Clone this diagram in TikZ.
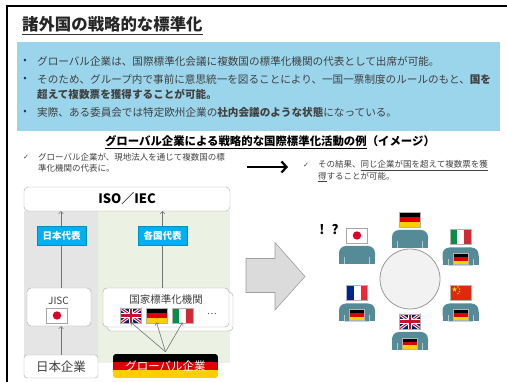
\documentclass[tikz,border=0pt]{standalone}
\usepackage{fontspec}
\setmainfont{Noto Sans CJK JP}
\newfontfamily\symfont{DejaVu Sans}
\usetikzlibrary{arrows.meta,shapes.geometric,shadows}

\definecolor{skyback}{RGB}{155,213,235}
\definecolor{repcyan}{RGB}{0,176,240}
\definecolor{personcol}{RGB}{84,139,150}
\definecolor{panelgreen}{RGB}{235,242,228}
\definecolor{bulletblue}{RGB}{31,56,100}
\definecolor{textgray}{RGB}{64,64,64}
\definecolor{dered}{RGB}{221,0,0}
\definecolor{degold}{RGB}{255,206,0}
\definecolor{jpred}{RGB}{220,0,40}
\definecolor{itgreen}{RGB}{0,146,70}
\definecolor{itred}{RGB}{206,43,55}
\definecolor{frblue}{RGB}{0,35,149}
\definecolor{frred}{RGB}{237,41,57}
\definecolor{cnred}{RGB}{222,41,16}
\definecolor{cnyellow}{RGB}{255,222,0}
\definecolor{ukblue}{RGB}{1,33,105}
\definecolor{ukred}{RGB}{200,16,46}

% flags are 21 x 15, centred on the pic origin (y runs downwards)
\tikzset{
	flag de/.pic={
		\fill[black] (-10.5,-7.5) rectangle (10.5,-2.5);
		\fill[dered] (-10.5,-2.5) rectangle (10.5,2.5);
		\fill[degold] (-10.5,2.5) rectangle (10.5,7.5);
		\draw[gray!60,line width=0.4pt] (-10.5,-7.5) rectangle (10.5,7.5);
	},
	flag jp/.pic={
		\fill[white] (-10.5,-7.5) rectangle (10.5,7.5);
		\fill[jpred] (0,0) circle (4.2pt);
		\draw[gray!70,line width=0.5pt] (-10.5,-7.5) rectangle (10.5,7.5);
	},
	flag it/.pic={
		\fill[itgreen] (-10.5,-7.5) rectangle (-3.5,7.5);
		\fill[white] (-3.5,-7.5) rectangle (3.5,7.5);
		\fill[itred] (3.5,-7.5) rectangle (10.5,7.5);
		\draw[gray!60,line width=0.4pt] (-10.5,-7.5) rectangle (10.5,7.5);
	},
	flag fr/.pic={
		\fill[frblue] (-10.5,-7.5) rectangle (-3.5,7.5);
		\fill[white] (-3.5,-7.5) rectangle (3.5,7.5);
		\fill[frred] (3.5,-7.5) rectangle (10.5,7.5);
		\draw[gray!60,line width=0.4pt] (-10.5,-7.5) rectangle (10.5,7.5);
	},
	flag cn/.pic={
		\fill[cnred] (-10.5,-7.5) rectangle (10.5,7.5);
		\node (cnstar) [star,star points=5,star point ratio=2.4,fill=cnyellow,inner sep=0pt,minimum size=5pt] at (-6,-3.5) {};
		\foreach \sx/\sy [count=\k] in {-2.5/-6,-1/-4,-1/-1.5,-2.5/0.5}
			\node (cnsmall\k) [star,star points=5,star point ratio=2.4,fill=cnyellow,inner sep=0pt,minimum size=1.8pt] at (\sx,\sy) {};
		\draw[gray!60,line width=0.4pt] (-10.5,-7.5) rectangle (10.5,7.5);
	},
	flag uk/.pic={
		\begin{scope}
			\clip (-10.5,-7.5) rectangle (10.5,7.5);
			\fill[ukblue] (-10.5,-7.5) rectangle (10.5,7.5);
			\draw[white,line width=3pt] (-10.5,-7.5) -- (10.5,7.5) (-10.5,7.5) -- (10.5,-7.5);
			\draw[ukred,line width=1pt] (-10.5,-7.5) -- (10.5,7.5) (-10.5,7.5) -- (10.5,-7.5);
			\draw[white,line width=4.5pt] (-10.5,0) -- (10.5,0) (0,-7.5) -- (0,7.5);
			\draw[ukred,line width=2.5pt] (-10.5,0) -- (10.5,0) (0,-7.5) -- (0,7.5);
		\end{scope}
		\draw[gray!60,line width=0.4pt] (-10.5,-7.5) rectangle (10.5,7.5);
	},
	person/.pic={
		\fill[personcol,rounded corners=7pt] (-18,-9) rectangle (18,9);
		\fill[personcol] (-18,0) rectangle (18,9);
		\draw[white!55!personcol,line width=0.6pt] (-12.5,2.5) -- (-12.5,9) (12.5,2.5) -- (12.5,9);
	},
}

\begin{document}
\begin{tikzpicture}[
		x={(1pt,0pt)},
		y={(0pt,-1pt)},
		titletext/.style={font=\bfseries\fontsize{16.4}{18}\selectfont},
		bodytext/.style={anchor=west,inner sep=0pt,text=textgray,font=\fontsize{10.6}{12}\selectfont},
		bulletdot/.style={inner sep=0pt,text=bulletblue,font=\fontsize{10}{10}\selectfont},
		notetext/.style={anchor=west,inner sep=0pt,align=left,text=textgray,font=\fontsize{8.5}{11.5}\selectfont},
		checkmark/.style={inner sep=0pt,text=textgray,font=\symfont\fontsize{7}{7}\selectfont},
		whitebox/.style={draw=gray!70,fill=white,rounded corners=4pt,inner sep=0pt},
		repbox/.style={fill=repcyan,draw=repcyan!80!black,line width=0.3pt,text=white,inner sep=0pt,
			minimum width=49pt,minimum height=19pt,font=\bfseries\fontsize{9.5}{10}\selectfont},
		conn/.style={draw=gray!110,line width=0.6pt,-{Straight Barb[length=2pt,width=4.5pt]}},
	]
	\useasboundingbox (0,0) rectangle (507,382);
	\draw[line width=1.2pt] (7,382) -- (7,6) -- (507,6);

	% heading and summary
	\node (title) [titletext,text=black!85,anchor=west,inner sep=0pt] at (22,24) {諸外国の戦略的な標準化};
	\draw[line width=1.3pt,black!80] (title.west |- 0,34.5) -- (title.east |- 0,34.5);

	\node (summary) [fill=skyback,anchor=north west,inner sep=0pt,minimum width=483pt,minimum height=89pt] at (17,42) {};
	\foreach \by [count=\k] in {61.7,79.3,112.7}
		\node (dot\k) [bulletdot] at (25,\by) {•};
	\node (sum1) [bodytext] at (37,61.7) {グローバル企業は、国際標準化会議に複数国の標準化機関の代表として出席が可能。};
	\node (sum2) [bodytext] at (37,79.3) {そのため、グループ内で事前に意思統一を図ることにより、一国一票制度のルールのもと、\textbf{国を}};
	\node (sum2b) [bodytext] at (37,94.3) {\textbf{超えて複数票を獲得することが可能。}};
	\node (sum3) [bodytext] at (37,112.7) {実際、ある委員会では特定欧州企業の\textbf{社内会議のような状態}になっている。};

	\node (subhead) [font=\bfseries\fontsize{11.4}{12}\selectfont] at (270,142) {\underline{グローバル企業による戦略的な国際標準化活動の例}（イメージ）};

	\node (lcheck) [checkmark] at (26,157) {✓};
	\node (leftnote) [notetext] at (38,162.7) {グローバル企業が、現地法人を通じて複数国の標\\準化機関の代表に。};
	\node (rcheck) [checkmark] at (306,165) {✓};
	\node (rightnote) [notetext] at (318,171.5) {その結果、\underline{同じ企業が国を超えて複数票を獲}\\\underline{得}することが可能。};

	\coordinate (arrowL) at (247,167);
	\coordinate (arrowR) at (288,167);
	\draw[line width=2.2pt,-{Straight Barb[length=5pt,width=11pt,line width=2.2pt]}] (arrowL) -- (arrowR);

	% left: how the votes are collected
	\fill[gray!20] (24,211) rectangle (98,363);
	\fill[panelgreen] (98,211) rectangle (230,363);
	\node (iso) [whitebox,minimum width=206pt,minimum height=24pt,font=\bfseries\fontsize{13}{14}\selectfont] at (127,199) {ISO／IEC};

	\node (jisc) [whitebox,minimum width=64pt,minimum height=38pt] at (59,307) {};
	\node (jisctext) [text=textgray,font=\fontsize{10}{11}\selectfont] at (58.5,301) {JISC};
	\pic at (57,315.5) {flag jp};

	\node (nsb) [whitebox,minimum width=126pt,minimum height=39pt,
		copy shadow={shadow xshift=4pt,shadow yshift=-4pt}] at (166,307.5) {};
	\node (nsbtext) [text=textgray,font=\fontsize{10.5}{11}\selectfont] at (166,300) {国家標準化機関};
	\foreach \fx/\fl in {131/uk,156.5/de,182.5/it}{
		\pic at (\fx,315.5) {flag \fl};
		\coordinate (foot\fl) at (\fx,322.5);
	}
	\node (more) [text=textgray,font=\fontsize{9}{9}\selectfont] at (212,314) {…};

	\node (jpcorp) [whitebox,rounded corners=3pt,minimum width=74pt,minimum height=23pt,
		text=textgray,font=\fontsize{12.5}{13}\selectfont] at (61,366.5) {日本企業};

	\begin{scope}
		\clip[rounded corners=3pt] (113,354) rectangle (218,378);
		\fill[black] (113,354) rectangle (218,362);
		\fill[dered] (113,362) rectangle (218,370);
		\fill[degold] (113,370) rectangle (218,378);
	\end{scope}
	\node (glob) [minimum width=105pt,minimum height=24pt,inner sep=0pt,text=white,
		font=\fontsize{11.5}{12}\selectfont] at (165.5,366) {グローバル企業};

	\draw[conn] (jpcorp.north) -- (jpcorp.north |- jisc.south);
	\draw[conn] (jisc.north -| jpcorp.north) -- (jpcorp.north |- iso.south);
	\node (jprep) [repbox] at (61.5,235.5) {日本代表};

	\draw[conn] (nsb.north -| 162.5,0) -- (162.5,0 |- iso.south);
	\node (natrep) [repbox] at (162.5,235.5) {各国代表};

	\foreach \fl in {uk,de,it}
		\draw[conn] ([yshift=2pt]glob.north) -- (foot\fl);

	% right: one company round the table
	\draw[gray!75,fill=gray!28,line width=0.6pt] (246,258.5) -- (275,258.5) -- (275,242.5) -- (305,276.5)
		-- (275,310) -- (275,292.5) -- (246,292.5) -- cycle;

	\node (table) [circle,draw=gray!80,fill=gray!10,line width=0.8pt,minimum size=60pt] at (410,279) {};

	\foreach \px/\py/\fl/\onbody in {410/239/de/0,357/255/jp/0,460.5/256.5/it/1,357/312.5/fr/1,460.5/312.5/cn/1,410/341/uk/1}{
		\pic at (\px,\py) {person};
		\pic at (\px,\py-19.5) {flag \fl};
		\ifnum\onbody=1 \pic[scale=0.72] at (\px,\py+2.5) {flag de};\fi
	}
	\node (puzzle) [font=\bfseries\fontsize{13}{13}\selectfont] at (329,230) {!\hspace{7pt}?};
\end{tikzpicture}
\end{document}
